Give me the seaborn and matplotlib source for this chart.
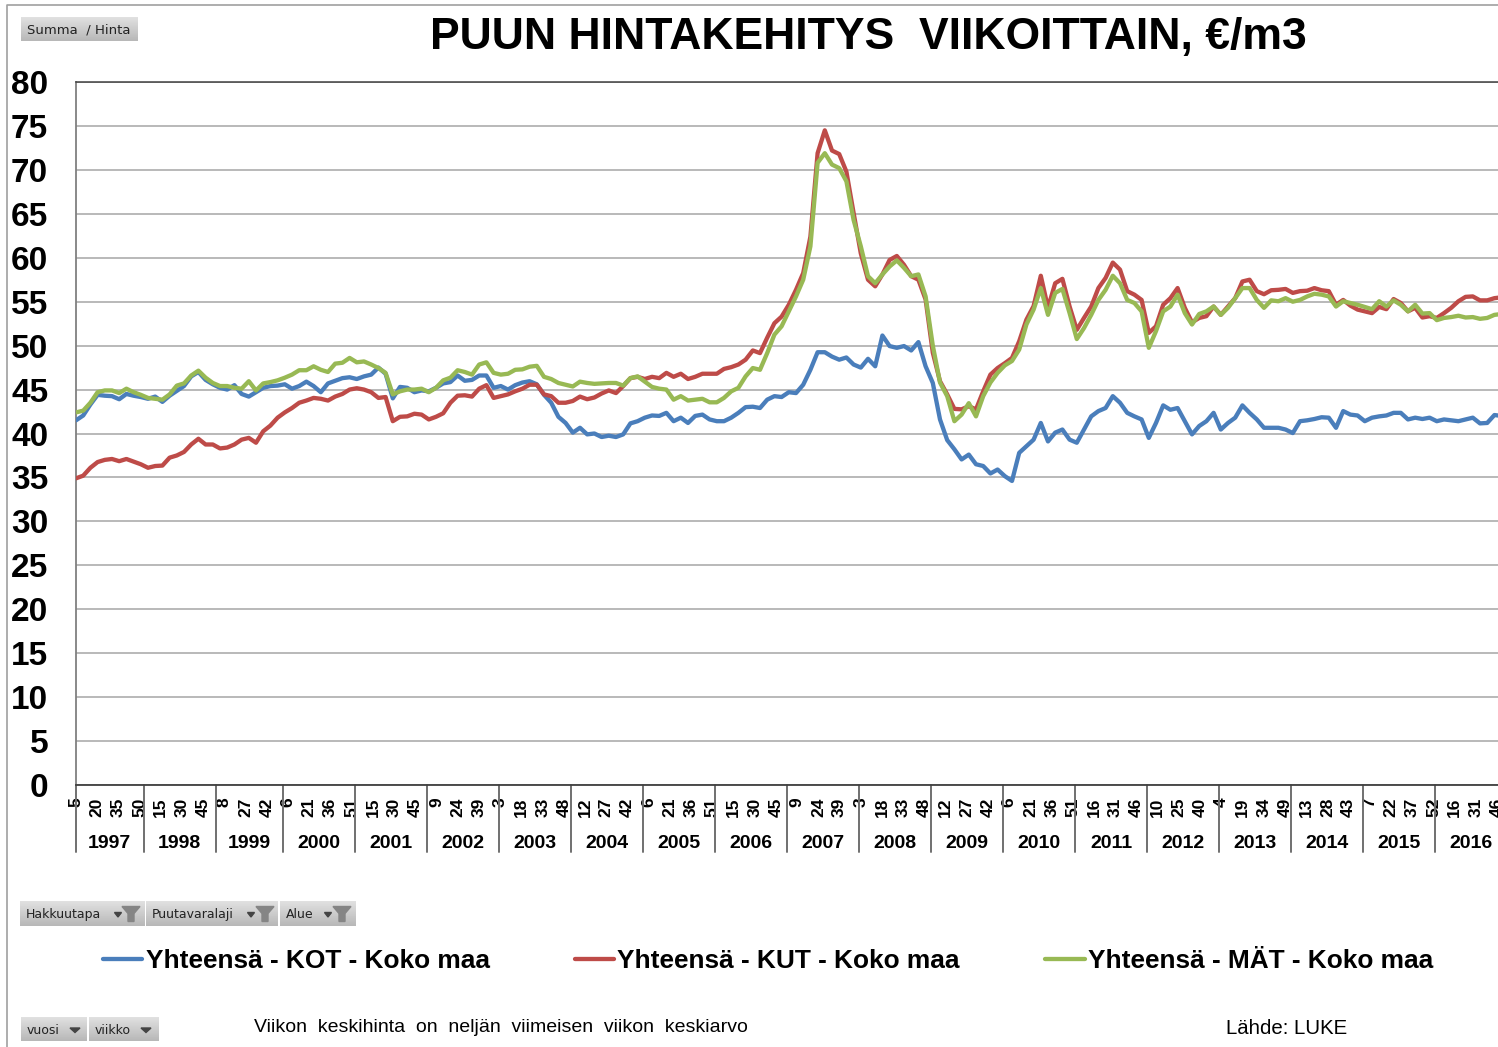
# Puun hintakehitys viikoittain, redrawn with seaborn

import matplotlib.pyplot as plt
from matplotlib.patches import Polygon
import numpy as np
import pandas as pd
import seaborn as sns

W, H = 1498, 1047

# one reading every 5 week positions along the axis
kot = [41.5, 42.05, 43.3, 44.4, 44.3, 44.25, 43.9, 44.5, 44.3, 44.15,
       43.95, 44.2, 43.6, 44.3, 44.85, 45.4, 46.5, 47, 46.1, 45.6,
       45.2, 45, 45.5, 44.5, 44.2, 44.7, 45.2, 45.4, 45.45, 45.6,
       45.1, 45.4, 45.9, 45.4, 44.7, 45.7, 46, 46.3, 46.4, 46.2,
       46.5, 46.7, 47.5, 46.8, 44, 45.3, 45.2, 44.7, 44.9, 44.8,
       45.2, 45.7, 45.85, 46.6, 46, 46.1, 46.6, 46.6, 45.2, 45.4,
       45, 45.5, 45.8, 45.95, 45.6, 44.4, 43.5, 41.9, 41.2, 40.1,
       40.65, 39.9, 40, 39.6, 39.75, 39.6, 39.9, 41.15, 41.4, 41.8,
       42.05, 42, 42.35, 41.4, 41.8, 41.2, 42, 42.15, 41.6, 41.4,
       41.4, 41.8, 42.35, 43, 43.05, 42.9, 43.85, 44.25, 44.15, 44.7,
       44.6, 45.55, 47.25, 49.25, 49.25, 48.75, 48.4, 48.65, 47.85, 47.5,
       48.5, 47.65, 51.15, 49.95, 49.75, 49.95, 49.45, 50.4, 47.65, 45.75,
       41.6, 39.25, 38.2, 37.05, 37.6, 36.5, 36.3, 35.45, 35.9, 35.15,
       34.6, 37.8, 38.55, 39.3, 41.2, 39.1, 40.1, 40.45, 39.3, 38.95,
       40.45, 41.95, 42.55, 42.9, 44.25, 43.5, 42.35, 41.95, 41.6, 39.5,
       41.2, 43.2, 42.7, 42.9, 41.4, 39.9, 40.85, 41.4, 42.35, 40.45,
       41.2, 41.8, 43.2, 42.35, 41.6, 40.65, 40.65, 40.65, 40.45, 40.05,
       41.4, 41.5, 41.65, 41.85, 41.8, 40.65, 42.55, 42.15, 42.05, 41.4,
       41.8, 41.95, 42.05, 42.35, 42.35, 41.6, 41.8, 41.65, 41.8, 41.4,
       41.6, 41.5, 41.4, 41.6, 41.8, 41.15, 41.2, 42.1, 42]

kut = [34.9, 35.2, 36.1, 36.75, 37.0, 37.1, 36.85, 37.1, 36.8, 36.5,
       36.1, 36.3, 36.35, 37.25, 37.5, 37.9, 38.75, 39.4, 38.75, 38.75,
       38.3, 38.4, 38.75, 39.3, 39.5, 38.95, 40.25, 40.9, 41.8, 42.4,
       42.9, 43.5, 43.75, 44.05, 43.95, 43.75, 44.2, 44.5, 45.0, 45.15,
       45, 44.7, 44.05, 44.15, 41.4, 41.9, 41.95, 42.25, 42.15, 41.6,
       41.9, 42.3, 43.5, 44.3, 44.35, 44.2, 45.1, 45.5, 44.05, 44.25,
       44.45, 44.8, 45.1, 45.55, 45.55, 44.45, 44.25, 43.5, 43.5, 43.7,
       44.2, 43.9, 44.1, 44.55, 44.9, 44.6, 45.4, 46.3, 46.45, 46.2,
       46.45, 46.3, 46.9, 46.45, 46.8, 46.2, 46.45, 46.8, 46.8, 46.8,
       47.35, 47.55, 47.85, 48.4, 49.45, 49.15, 50.9, 52.55, 53.3, 54.65,
       56.35, 58.25, 62.4, 71.9, 74.5, 72.2, 71.8, 69.8, 65.1, 60.5,
       57.5, 56.75, 58.1, 59.75, 60.2, 59.2, 57.9, 57.5, 55.25, 49.2,
       45.95, 44.45, 42.8, 42.75, 43.1, 42.75, 44.8, 46.7, 47.45, 48,
       48.6, 50.5, 52.95, 54.5, 57.95, 54.3, 57.1, 57.6, 54.45, 51.8,
       53.15, 54.45, 56.55, 57.7, 59.45, 58.65, 56.2, 55.8, 55.2, 51.45,
       52.2, 54.65, 55.4, 56.55, 54.3, 52.65, 53.15, 53.35, 54.45, 53.5,
       54.45, 55.4, 57.3, 57.5, 56.2, 55.85, 56.3, 56.35, 56.45, 56,
       56.2, 56.25, 56.55, 56.3, 56.2, 54.65, 55.2, 54.55, 54.1, 53.9,
       53.7, 54.4, 54.15, 55.3, 54.85, 53.9, 54.3, 53.2, 53.35, 53.15,
       53.7, 54.3, 55.05, 55.55, 55.6, 55.15, 55.15, 55.4, 55.5]

mat = [42.4, 42.6, 43.5, 44.7, 44.9, 44.9, 44.6, 45.1, 44.7, 44.4,
       44.05, 43.95, 43.85, 44.45, 45.45, 45.7, 46.6, 47.15, 46.35, 45.75,
       45.4, 45.4, 45.2, 45.1, 45.95, 44.9, 45.7, 45.85, 46.05, 46.35,
       46.7, 47.2, 47.2, 47.65, 47.25, 47, 47.95, 48.05, 48.6, 48.1,
       48.2, 47.85, 47.45, 46.9, 44.45, 44.8, 45, 45, 45.1, 44.7,
       45.2, 46.05, 46.35, 47.2, 47, 46.7, 47.85, 48.1, 46.9, 46.7,
       46.8, 47.25, 47.3, 47.6, 47.7, 46.45, 46.2, 45.75, 45.55, 45.35,
       45.9, 45.75, 45.65, 45.7, 45.75, 45.75, 45.45, 46.3, 46.5, 45.9,
       45.3, 45.1, 45, 43.85, 44.25, 43.75, 43.85, 43.95, 43.55, 43.55,
       44.05, 44.8, 45.2, 46.5, 47.45, 47.25, 49.15, 51.25, 52.2, 53.9,
       55.6, 57.5, 61.3, 70.8, 71.9, 70.6, 70.2, 68.7, 64.3, 61.3,
       57.9, 57.1, 58.1, 59, 59.7, 58.85, 57.9, 58.1, 55.6, 50,
       45.8, 44.25, 41.4, 42.15, 43.45, 41.95, 44.25, 45.8, 46.9, 47.75,
       48.25, 49.55, 52.4, 54.1, 56.55, 53.5, 56, 56.45, 53.7, 50.75,
       52, 53.5, 55.2, 56.35, 57.95, 57.1, 55.2, 54.85, 53.9, 49.75,
       51.65, 53.9, 54.45, 55.8, 53.7, 52.4, 53.6, 53.9, 54.45, 53.5,
       54.3, 55.4, 56.55, 56.55, 55.2, 54.3, 55.15, 55.05, 55.4, 55,
       55.2, 55.6, 55.9, 55.8, 55.6, 54.45, 55.05, 54.85, 54.65, 54.4,
       54.15, 55.05, 54.45, 55.15, 54.65, 53.9, 54.65, 53.65, 53.7, 52.9,
       53.15, 53.25, 53.4, 53.2, 53.25, 53.05, 53.15, 53.5, 53.6]

week_labels = ['5', '20', '35', '50', '15', '30', '45', '8', '27', '42',
               '6', '21', '36', '51', '15', '30', '45', '9', '24', '39',
               '3', '18', '33', '48', '12', '27', '42', '6', '21', '36', '51',
               '15', '30', '45', '9', '24', '39', '3', '18', '33', '48',
               '12', '27', '42', '6', '21', '36', '51', '16', '31', '46',
               '10', '25', '40', '4', '19', '34', '49', '13', '28', '43',
               '7', '22', '37', '52', '16', '31', '46']
years = [str(y) for y in range(1997, 2017)]
year_starts = [0, 47, 97, 144, 194, 244, 294, 344, 394, 444, 494, 544, 594,
               644, 694, 744, 794, 844, 894, 944, 994]

names = ['Yhteensä - KOT - Koko maa', 'Yhteensä - KUT - Koko maa', 'Yhteensä - MÄT - Koko maa']
colors = ['#4A7EBB', '#BE4B48', '#98B954']

df = pd.DataFrame({'pos': np.arange(len(kot)) * 5, names[0]: kot, names[1]: kut, names[2]: mat})
df = df.melt(id_vars='pos', var_name='sarja', value_name='hinta')

sns.set_theme(style='white')
plt.rcParams['font.family'] = ['Liberation Sans', 'DejaVu Sans']
plt.rcParams['text.color'] = 'black'
plt.rcParams['xtick.labelcolor'] = 'black'
plt.rcParams['ytick.labelcolor'] = 'black'
plt.rcParams['lines.solid_joinstyle'] = 'round'

fig = plt.figure(figsize=(W / 100, H / 100), dpi=100)
ax = fig.add_axes([76 / W, (H - 785) / H, 1425.6 / W, 703 / H])

sns.lineplot(data=df, x='pos', y='hinta', hue='sarja', palette=colors, estimator=None,
             linewidth=3.1, ax=ax, zorder=3)
ax.set_xlabel('')
ax.set_ylabel('')

ax.set_yticks(range(0, 85, 5))
ax.tick_params(axis='y', length=0, pad=20, labelsize=24)
for t in ax.get_yticklabels():
    t.set_fontweight('bold')
# week labels are a bit tighter than 15 positions on this scale
ax.set_xticks(np.arange(len(week_labels)) * 14.73)
ax.set_xticklabels(week_labels, rotation=90, fontsize=12.5, fontweight='bold', va='top')
ax.tick_params(axis='x', length=0, pad=9)
ax.set_xlim(0, 990)
ax.set_ylim(0, 80)
ax.grid(axis='y', color='#A6A6A6', linewidth=1.1)
ax.set_axisbelow(True)
for side, col, lw in [('top', '#404040', 1.1), ('bottom', '#404040', 1.3), ('left', '#808080', 1.3), ('right', '#808080', 0)]:
    ax.spines[side].set_color(col)
    ax.spines[side].set_linewidth(lw)

# year separators and year names under the week numbers
xt = ax.get_xaxis_transform()
drop = -(852 - 785) / 703
for s in year_starts[:-1]:
    ax.plot([s, s], [0, drop], transform=xt, color='#707070', lw=1.4, clip_on=False)
for i, y in enumerate(years):
    ax.text((year_starts[i] + year_starts[i + 1]) / 2, -(844 - 785) / 703, y, transform=xt,
            ha='center', va='center', fontsize=14, fontweight='bold', color='black')
ax.set_xlim(0, 990)

sns.move_legend(ax, 'center left', bbox_to_anchor=(27 / 1425.6, -(961 - 785) / 703), ncol=3, frameon=False,
                title=None, handlelength=1.5, handletextpad=0.12, columnspacing=3.25,
                prop={'size': 18.9, 'weight': 'bold'}, borderpad=0, borderaxespad=0)

# page-level items in pixel coordinates
over = fig.add_axes([0, 0, 1, 1], zorder=-1)
over.set_axis_off()
over.patch.set_alpha(0)
grad = np.linspace(0.88, 0.72, 30).reshape(-1, 1)


def button(x0, x1, y0, y1, label, arrow=None, funnel=None, half=5, size=9):
    ym = (y0 + y1) / 2
    over.imshow(grad, extent=(x0, x1, y1, y0), cmap='gray', vmin=0, vmax=1, aspect='auto', zorder=1)
    over.text(x0 + 6, ym + 1, label, fontsize=size, family='DejaVu Sans', color='#222222',
              va='center', ha='left', zorder=2)
    if arrow:
        over.add_patch(Polygon([(arrow - half, ym - 1), (arrow + half, ym - 1), (arrow, ym + 3.5)],
                               color='#444444', zorder=2))
    if funnel:
        over.add_patch(Polygon([(funnel - 9, ym - 7), (funnel + 9, ym - 7), (funnel + 3, ym), (funnel + 3, ym + 8),
                                (funnel - 3, ym + 8), (funnel - 3, ym)], color='#858585', zorder=2))


button(21, 138, 17, 41, 'Summa  / Hinta', size=9.5)
button(20, 145, 901, 926, 'Hakkuutapa', arrow=118, funnel=131, half=3.5)
button(146, 278, 901, 926, 'Puutavaralaji', arrow=251, funnel=265, half=3.5)
button(280, 356, 901, 926, 'Alue', arrow=328, funnel=342, half=3.5)
button(21, 87, 1017, 1041, 'vuosi', arrow=75)
button(89, 159, 1017, 1041, 'viikko', arrow=146)

over.plot([7, 7, W], [H, 5, 5], color='#A0A0A0', lw=1.2)
over.text(868, 38, 'PUUN HINTAKEHITYS  VIIKOITTAIN, €/m3', fontsize=32, fontweight='bold', ha='center', va='center')
over.text(254, 1027, 'Viikon  keskihinta  on  neljän  viimeisen  viikon  keskiarvo', fontsize=14, ha='left', va='center')
over.text(1226, 1029, 'Lähde: LUKE', fontsize=14.7, ha='left', va='center')
over.set_xlim(0, W)
over.set_ylim(H, 0)

fig.savefig('out.png', dpi=100)
plt.close()
